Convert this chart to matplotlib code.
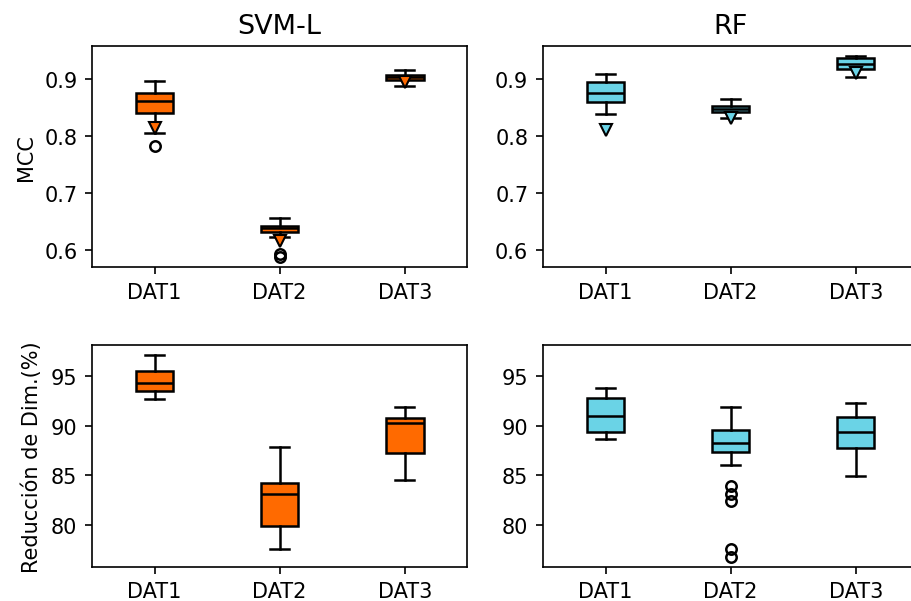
import matplotlib
matplotlib.use('Agg')
import matplotlib.pyplot as plt

labels = ['DAT1', 'DAT2', 'DAT3']

# MCC, SVM-L
svm_mcc_lo = [0.805, 0.623, 0.888]
svm_mcc_q1 = [0.8415, 0.631, 0.899]
svm_mcc_med = [0.8626, 0.638, 0.904]
svm_mcc_q3 = [0.8754, 0.6427, 0.908]
svm_mcc_hi = [0.897, 0.656, 0.916]
svm_mcc_mean = [0.815, 0.615, 0.895]
svm_mcc_fliers = [[0.783], [0.593, 0.587], []]

# MCC, RF
rf_mcc_lo = [0.8386, 0.832, 0.905]
rf_mcc_q1 = [0.861, 0.8433, 0.919]
rf_mcc_med = [0.8754, 0.8486, 0.927]
rf_mcc_q3 = [0.896, 0.854, 0.937]
rf_mcc_hi = [0.909, 0.865, 0.941]
rf_mcc_mean = [0.811, 0.8315, 0.912]
rf_mcc_fliers = [[], [], []]

# Reduccion de dimension, SVM-L
svm_red_lo = [92.63, 77.6, 84.57]
svm_red_q1 = [93.43, 79.93, 87.23]
svm_red_med = [94.3, 83.13, 90.3]
svm_red_q3 = [95.47, 84.2, 90.73]
svm_red_hi = [97.07, 87.87, 91.9]
svm_red_fliers = [[], [], []]

# Reduccion de dimension, RF
rf_red_lo = [88.6, 86.03, 84.93]
rf_red_q1 = [89.33, 87.3, 87.7]
rf_red_med = [91.0, 88.27, 89.4]
rf_red_q3 = [92.8, 89.6, 90.87]
rf_red_hi = [93.77, 91.9, 92.3]
rf_red_fliers = [[], [83.93, 83.17, 82.4, 77.6, 76.83], []]

ORANGE = '#ff6a00'
CYAN = '#6ad3e6'


def make_stats(lo, q1, med, q3, hi, fliers, mean=None):
    stats = []
    for i in range(len(lo)):
        d = dict(whislo=lo[i], q1=q1[i], med=med[i], q3=q3[i],
                 whishi=hi[i], fliers=fliers[i], label=labels[i])
        if mean is not None:
            d['mean'] = mean[i]
        stats.append(d)
    return stats


def draw(ax, stats, color, showmeans):
    ax.bxp(stats, showmeans=showmeans, patch_artist=True,
           boxprops=dict(facecolor=color, edgecolor='black', linewidth=1.2),
           medianprops=dict(color='black', linewidth=1.2),
           whiskerprops=dict(color='black', linewidth=1.2),
           capprops=dict(color='black', linewidth=1.2),
           flierprops=dict(marker='o', markerfacecolor='none',
                           markeredgecolor='black', markersize=5,
                           markeredgewidth=1.2),
           meanprops=dict(marker='v', markerfacecolor=color,
                          markeredgecolor='black', markersize=6))
    ax.tick_params(labelsize=10)


fig = plt.figure(figsize=(9.11 / 1.5, 6.02 / 1.5), dpi=150)
w, h = 0.412, 0.368
ax1 = fig.add_axes([0.101, 0.554, w, h])
ax2 = fig.add_axes([0.596, 0.554, w, h])
ax3 = fig.add_axes([0.101, 0.057, w, h])
ax4 = fig.add_axes([0.596, 0.057, w, h])
ax2.sharey(ax1)
ax4.sharey(ax3)

draw(ax1, make_stats(svm_mcc_lo, svm_mcc_q1, svm_mcc_med, svm_mcc_q3,
                     svm_mcc_hi, svm_mcc_fliers, svm_mcc_mean), ORANGE, True)
draw(ax2, make_stats(rf_mcc_lo, rf_mcc_q1, rf_mcc_med, rf_mcc_q3,
                     rf_mcc_hi, rf_mcc_fliers, rf_mcc_mean), CYAN, True)
draw(ax3, make_stats(svm_red_lo, svm_red_q1, svm_red_med, svm_red_q3,
                     svm_red_hi, svm_red_fliers), ORANGE, False)
draw(ax4, make_stats(rf_red_lo, rf_red_q1, rf_red_med, rf_red_q3,
                     rf_red_hi, rf_red_fliers), CYAN, False)

ax1.set_title('SVM-L', fontsize=13)
ax2.set_title('RF', fontsize=13)
ax1.set_ylabel('MCC', fontsize=10)
ax3.set_ylabel('Reducción de Dim.(%)', fontsize=10)

ax1.set_yticks([0.6, 0.7, 0.8, 0.9])
ax3.set_yticks([80, 85, 90, 95])

fig.savefig('out.png', dpi=150)
